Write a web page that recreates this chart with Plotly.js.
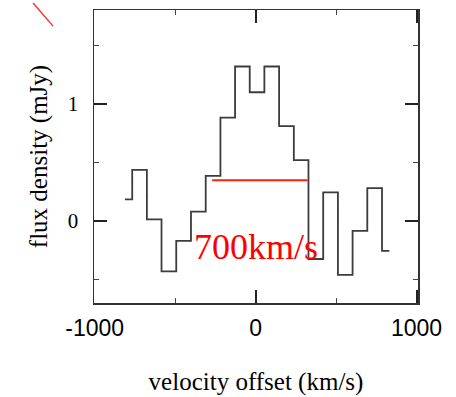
<!DOCTYPE html>
<html>
<head>
<meta charset="utf-8">
<script src="https://cdn.plot.ly/plotly-3.0.1.min.js"></script>
<style>html,body{margin:0;padding:0;background:#fff;}#chart{width:456px;height:397px;}</style>
</head>
<body>
<div id="chart"></div>
<script>
// Channel centres (km/s) and flux densities (mJy)
const velocity = [-812, -721, -630, -539, -447, -356, -264, -173, -82, 9, 100, 192, 283, 374, 466, 557, 648, 740, 831];
const flux = [0.185, 0.436, 0.014, -0.43, -0.17, 0.08, 0.385, 0.883, 1.32, 1.10, 1.32, 0.81, 0.52, -0.325, 0.245, -0.46, -0.085, 0.28, -0.256];
// Line-width marker
const widthX = [-270, 323];
const widthY = [0.348, 0.348];
const widthLabel = "700km/s";
const xTicks = [-1000, 0, 1000];
const yTicks = [0, 1];

const traces = [
  {x: velocity, y: flux, type: 'scatter', mode: 'lines', line: {shape: 'hvh', color: '#3c3c3c', width: 1.8}, hoverinfo: 'skip'},
  {x: widthX, y: widthY, type: 'scatter', mode: 'lines', line: {color: '#ff2200', width: 2}, hoverinfo: 'skip'}
];

const layout = {
  width: 456, height: 397,
  margin: {l: 94, r: 38, t: 10, b: 94},
  paper_bgcolor: '#fff', plot_bgcolor: '#fff',
  showlegend: false,
  xaxis: {
    range: [-1004, 1009], tickvals: xTicks, ticktext: xTicks.map(String),
    ticks: 'inside', ticklen: 13, tickwidth: 2, tickcolor: '#222',
    minor: {dtick: 500, tick0: 0, ticks: 'inside', ticklen: 5, tickwidth: 1, tickcolor: '#444'},
    showline: true, linecolor: '#333', linewidth: 1.5, mirror: 'ticks',
    showgrid: false, zeroline: false,
    tickfont: {family: 'Liberation Sans, Arial, sans-serif', size: 23, color: '#000'},
    ticklabelstandoff: 4,
    title: {text: 'velocity offset (km/s)', font: {family: 'Liberation Serif, Times New Roman, serif', size: 25, color: '#000'}, standoff: 32},
    automargin: false
  },
  yaxis: {
    range: [-0.701, 1.803], tickvals: yTicks, ticktext: yTicks.map(String),
    ticks: 'inside', ticklen: 13, tickwidth: 2, tickcolor: '#222',
    minor: {dtick: 0.5, tick0: 0, ticks: 'inside', ticklen: 5, tickwidth: 1, tickcolor: '#444'},
    showline: true, linecolor: '#333', linewidth: 1.5, mirror: 'ticks',
    showgrid: false, zeroline: false,
    tickfont: {family: 'Liberation Serif, Times New Roman, serif', size: 21, color: '#000'},
    ticklabelstandoff: 10,
    title: {text: 'flux density (mJy)', font: {family: 'Liberation Serif, Times New Roman, serif', size: 25, color: '#000'}, standoff: 13},
    automargin: false
  },
  annotations: [
    {x: 0, y: -0.222, xref: 'x', yref: 'y', text: widthLabel, showarrow: false,
     xanchor: 'center', yanchor: 'middle',
     font: {family: 'Liberation Serif, Times New Roman, serif', size: 36, color: '#ff0000'}}
  ],
  shapes: [
    {type: 'line', xref: 'paper', yref: 'paper', x0: -0.188, y0: 1.024, x1: -0.1264, y1: 0.945,
     line: {color: '#ff3030', width: 1.5}}
  ]
};

Plotly.newPlot('chart', traces, layout, {displayModeBar: false, staticPlot: true});
</script>
</body>
</html>
